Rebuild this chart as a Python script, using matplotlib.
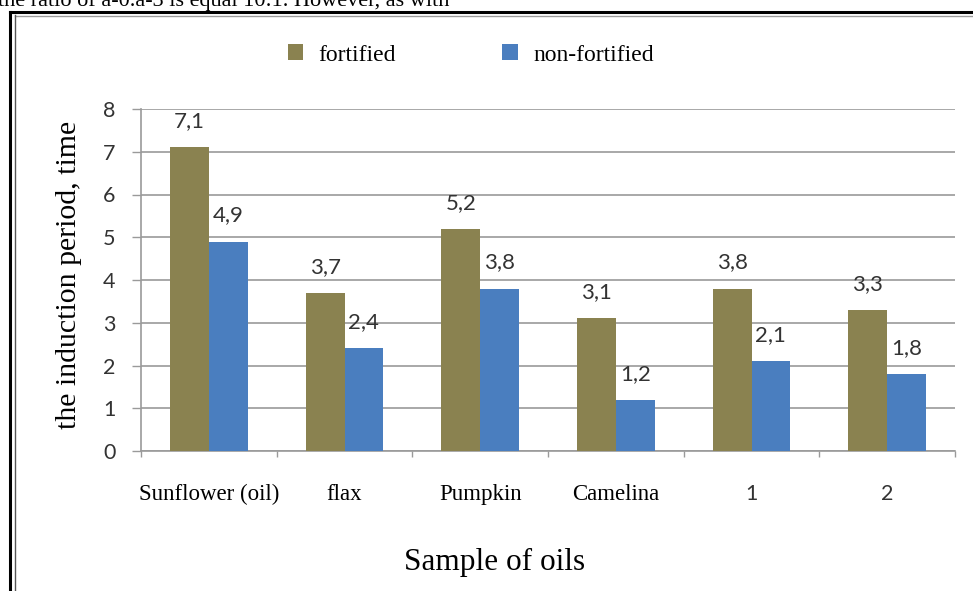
"""Induction period of fortified vs non-fortified oils"""

import matplotlib
matplotlib.use('Agg')
import matplotlib.pyplot as plt
from matplotlib.lines import Line2D
import numpy as np

###Data
categories = ['Sunflower (oil)', 'flax', 'Pumpkin', 'Camelina', '1', '2']
fortified = [7.1, 3.7, 5.2, 3.1, 3.8, 3.3]
non_fortified = [4.9, 2.4, 3.8, 1.2, 2.1, 1.8]
y_ticks = [0, 1, 2, 3, 4, 5, 6, 7, 8]
###Data end

###Adjustments
W, H = 973, 591
dpi = 100
olive = '#8A8250'
blue = '#4A7EBF'
grid_color = '#9A9A9A'
text_gray = '#333333'
serif = 'Liberation Serif'
sans = 'Lato'
bar_w = 1 / 3.5  # Excel gap width 150%
###Adjustments end


def px_x(x):
    return x / W


def px_y(y):
    return 1 - y / H


fig = plt.figure(figsize=(W / dpi, H / dpi), dpi=dpi)

# partial line of the surrounding page text, cut at the top edge
fig.text(px_x(-2), px_y(6), 'the ratio of a-0.a-3 is equal 10:1. However, as with',
         fontsize=16, family=serif, va='baseline', ha='left', color='black')

# frame around the figure
fig.add_artist(Line2D([px_x(10), px_x(W + 5)], [px_y(12), px_y(12)], color='black', lw=2.2))
fig.add_artist(Line2D([px_x(10), px_x(10)], [px_y(12), px_y(H + 5)], color='black', lw=2.2))
fig.add_artist(Line2D([px_x(15), px_x(W + 5)], [px_y(15.5), px_y(15.5)], color='#9a9a9a', lw=1))
fig.add_artist(Line2D([px_x(15), px_x(15)], [px_y(15), px_y(H + 5)], color='#555555', lw=1))

left, right, top, bottom = 141, 955, 109, 451
ax = fig.add_axes([px_x(left), px_y(bottom), px_x(right - left), (bottom - top) / H])

x = np.arange(len(categories))
b1 = ax.bar(x - bar_w / 2, fortified, bar_w, color=olive, zorder=3, label='fortified')
b2 = ax.bar(x + bar_w / 2, non_fortified, bar_w, color=blue, zorder=3, label='non-fortified')

for bars, vals in ((b1, fortified), (b2, non_fortified)):
    for rect, v in zip(bars, vals):
        ax.annotate(('%.1f' % v).replace('.', ','),
                    (rect.get_x() + rect.get_width() / 2, v),
                    xytext=(0, 26), textcoords='offset pixels',
                    ha='center', va='center', fontsize=16, family=sans, color=text_gray)

ax.set_xlim(-0.5, len(categories) - 0.5)
ax.set_ylim(0, 8)
ax.set_yticks(y_ticks)
ax.yaxis.grid(True, color=grid_color, lw=1.2, zorder=0)
ax.tick_params(axis='y', length=6.5, width=1, color=grid_color, pad=12,
               labelsize=15.5, labelcolor=text_gray)
for lbl in ax.get_yticklabels():
    lbl.set_family(sans)

ax.set_xticks(x)
ax.set_xticklabels(categories)
ax.set_xticks(np.arange(len(categories) + 1) - 0.5, minor=True)
ax.tick_params(axis='x', which='major', length=0, pad=24, labelsize=16.5, labelcolor='black')
ax.tick_params(axis='x', which='minor', length=4, width=1, color=grid_color)
for lbl in ax.get_xticklabels():
    if lbl.get_text().isdigit():
        lbl.set_family(sans)
        lbl.set_fontsize(15.5)
        lbl.set_color(text_gray)
    else:
        lbl.set_family(serif)

for side in ('top', 'right'):
    ax.spines[side].set_visible(False)
for side in ('left', 'bottom'):
    ax.spines[side].set_color(grid_color)
    ax.spines[side].set_linewidth(1.2)

fig.text(px_x(69), px_y(275), 'the induction period, time', rotation=90,
         fontsize=21.5, family=serif, ha='center', va='center')
fig.text(px_x(495), px_y(562), 'Sample of oils',
         fontsize=22.5, family=serif, ha='center', va='center')

fig.legend(handles=[b1, b2], loc='center left', bbox_to_anchor=(px_x(288), px_y(55)),
           ncol=2, frameon=False, prop={'family': serif, 'size': 17},
           handlelength=0.65, handleheight=0.65, handletextpad=0.65,
           columnspacing=4.5, borderpad=0, borderaxespad=0)

fig.savefig('out.png', dpi=dpi)
plt.close()
